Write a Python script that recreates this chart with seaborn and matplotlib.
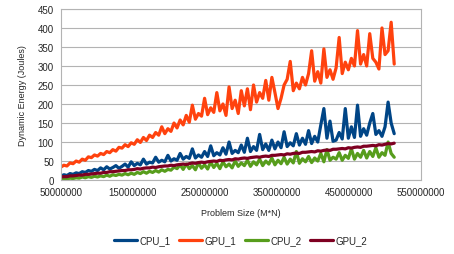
import numpy as np
import pandas as pd
import matplotlib
matplotlib.use("Agg")
import matplotlib.pyplot as plt
import seaborn as sns

# problem sizes (M*N), evenly spaced samples from 50M to 513M
problem_size = np.linspace(50e6, 513e6, 110)

cpu_1 = [10, 14, 12, 17, 15, 19, 17, 22, 20, 25,
         23, 28, 25, 32, 27, 35, 29, 33, 38, 31,
         36, 42, 34, 48, 38, 44, 40, 55, 42, 47,
         45, 60, 47, 52, 48, 65, 50, 56, 52, 70,
         55, 62, 57, 82, 58, 66, 60, 75, 62, 90,
         64, 72, 66, 85, 68, 100, 70, 78, 72, 92,
         73, 110, 75, 88, 78, 120, 80, 95, 78, 105,
         82, 100, 85, 127, 88, 98, 90, 122, 92, 110,
         94, 130, 96, 115, 100, 145, 188, 110, 155, 102,
         105, 125, 108, 188, 110, 140, 112, 197, 115, 135,
         118, 150, 175, 120, 130, 115, 140, 205, 150, 122]

gpu_1 = [34, 39, 37, 45, 43, 50, 47, 55, 52, 61,
         59, 66, 63, 70, 67, 75, 72, 80, 76, 86,
         84, 93, 88, 98, 94, 106, 99, 112, 104, 118,
         112, 125, 118, 140, 122, 135, 128, 150, 137, 158,
         145, 170, 152, 197, 160, 175, 168, 215, 172, 190,
         178, 230, 182, 200, 170, 245, 188, 210, 175, 235,
         195, 240, 185, 250, 205, 230, 215, 262, 210, 270,
         230, 188, 215, 250, 265, 312, 235, 255, 240, 270,
         250, 280, 340, 260, 285, 255, 345, 270, 290, 265,
         295, 375, 280, 310, 290, 320, 300, 393, 305, 330,
         300, 385, 320, 310, 292, 400, 330, 340, 415, 305]

cpu_2 = [2, 4, 3, 5, 4, 6, 5, 8, 6, 9,
         7, 10, 8, 11, 9, 13, 10, 14, 12, 15,
         13, 17, 14, 18, 15, 20, 17, 22, 18, 23,
         20, 25, 21, 27, 23, 28, 26, 34, 30, 40,
         28, 42, 30, 38, 27, 45, 31, 40, 29, 47,
         33, 44, 30, 48, 35, 42, 32, 50, 36, 45,
         38, 52, 36, 48, 40, 55, 38, 50, 42, 58,
         40, 52, 43, 60, 42, 55, 45, 75, 44, 56,
         48, 62, 46, 58, 50, 70, 48, 80, 52, 60,
         55, 72, 52, 65, 57, 82, 55, 70, 60, 78,
         58, 75, 62, 85, 60, 72, 65, 100, 70, 60]

gpu_2 = [8, 9, 9, 11, 11, 12, 13, 13, 15, 15,
         16, 17, 18, 18, 20, 20, 22, 22, 23, 24,
         25, 25, 27, 27, 28, 30, 29, 31, 32, 32,
         34, 33, 35, 36, 37, 37, 39, 38, 40, 41,
         42, 41, 43, 45, 44, 46, 47, 46, 48, 49,
         50, 49, 52, 51, 53, 54, 53, 56, 55, 57,
         58, 57, 59, 60, 61, 60, 62, 63, 62, 65,
         65, 66, 67, 66, 69, 68, 70, 71, 70, 73,
         73, 74, 75, 74, 77, 76, 78, 79, 78, 81,
         81, 82, 83, 82, 85, 84, 86, 87, 86, 89,
         89, 90, 91, 90, 93, 92, 94, 96, 95, 97]

series = {"CPU_1": cpu_1, "GPU_1": gpu_1, "CPU_2": cpu_2, "GPU_2": gpu_2}
colors = {"CPU_1": "#004586", "GPU_1": "#ff420e", "CPU_2": "#579d1c", "GPU_2": "#7e0021"}

df = pd.concat([pd.DataFrame({"size": problem_size, "energy": v, "series": k})
                for k, v in series.items()], ignore_index=True)

sns.set_style("white")
plt.rcParams["font.family"] = ["Liberation Sans", "DejaVu Sans"]

fig = plt.figure(figsize=(4.54, 2.55), dpi=100)
ax = fig.add_axes([0.134, 0.29, 0.793, 0.671])

sns.lineplot(data=df, x="size", y="energy", hue="series", palette=colors,
             linewidth=2.3, ax=ax, legend=True, sort=False)

ax.set_xlim(50e6, 550e6)
ax.set_ylim(0, 450)
ax.set_xticks(np.arange(50e6, 550e6 + 1, 100e6))
ax.set_xticklabels([f"{int(v)}" for v in np.arange(50e6, 550e6 + 1, 100e6)], fontsize=7)
ax.set_yticks(np.arange(0, 451, 50))
ax.tick_params(axis="y", labelsize=7, length=3, color="#b3b3b3", pad=2)
ax.tick_params(axis="x", length=3, color="#b3b3b3", pad=2)
ax.yaxis.grid(True, color="#b3b3b3", linewidth=0.8)
ax.xaxis.grid(False)
for s in ax.spines.values():
    s.set_color("#b3b3b3")
    s.set_linewidth(0.8)
ax.set_xlabel("Problem Size (M*N)", fontsize=6.5, labelpad=8)
ax.set_ylabel("Dynamic Energy (Joules)", fontsize=6.5, labelpad=8)

handles, labels = ax.get_legend_handles_labels()
for h in handles:
    h.set_linewidth(2.3)
ax.legend(handles, labels, loc="center", bbox_to_anchor=(0.5, -0.35),
          ncol=4, frameon=False, fontsize=7, handlelength=2.3,
          columnspacing=0.9, handletextpad=0.3)

fig.savefig("out.png", dpi=100)
